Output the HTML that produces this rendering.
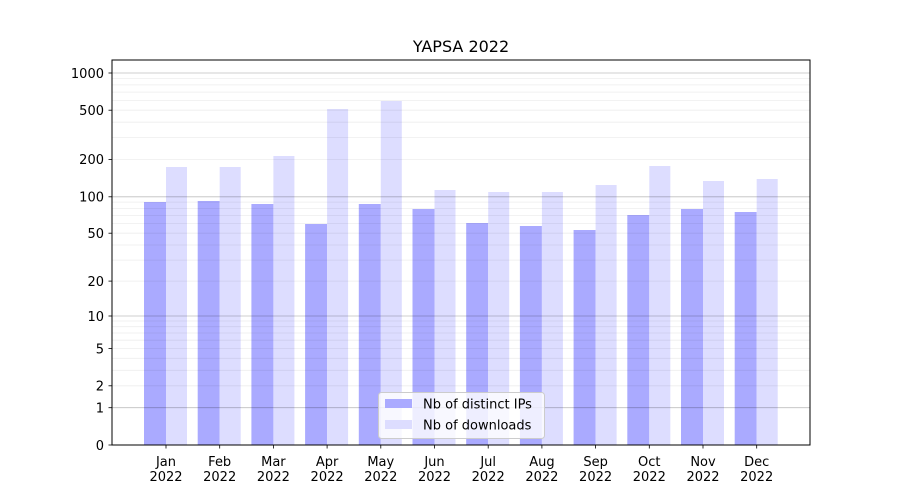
<!DOCTYPE html>
<html><head><meta charset="utf-8"><style>body{margin:0;background:#fff}svg{display:block}text{font-family:"DejaVu Sans","Liberation Sans",sans-serif;fill:#000}</style></head>
<body>
<svg width="900" height="500" viewBox="0 0 900 500" xmlns="http://www.w3.org/2000/svg">
<rect width="900" height="500" fill="#fff"/>
<g fill="#aaaaff">
<rect x="144" y="202" width="22" height="243"/>
<rect x="197.7" y="201" width="22" height="244"/>
<rect x="251.4" y="204" width="22" height="241"/>
<rect x="305.1" y="224" width="22" height="221"/>
<rect x="358.8" y="204" width="22" height="241"/>
<rect x="412.5" y="209" width="22" height="236"/>
<rect x="466.2" y="223" width="22" height="222"/>
<rect x="519.9" y="226" width="22" height="219"/>
<rect x="573.6" y="230" width="22" height="215"/>
<rect x="627.3" y="215" width="22" height="230"/>
<rect x="681" y="209" width="22" height="236"/>
<rect x="734.7" y="212" width="22" height="233"/>
</g>
<g fill="#ddddff">
<rect x="166" y="167" width="21" height="278"/>
<rect x="219.7" y="167" width="21" height="278"/>
<rect x="273.4" y="156" width="21" height="289"/>
<rect x="327.1" y="109" width="21" height="336"/>
<rect x="380.8" y="101" width="21" height="344"/>
<rect x="434.5" y="190" width="21" height="255"/>
<rect x="488.2" y="192" width="21" height="253"/>
<rect x="541.9" y="192" width="21" height="253"/>
<rect x="595.6" y="185" width="21" height="260"/>
<rect x="649.3" y="166" width="21" height="279"/>
<rect x="703" y="181" width="21" height="264"/>
<rect x="756.7" y="179" width="21" height="266"/>
</g>
<g stroke="#000" stroke-opacity="0.07" stroke-width="0.8">
<line x1="112" x2="810" y1="385.8" y2="385.8"/><line x1="112" x2="810" y1="370.3" y2="370.3"/><line x1="112" x2="810" y1="358.3" y2="358.3"/><line x1="112" x2="810" y1="348.5" y2="348.5"/><line x1="112" x2="810" y1="340.2" y2="340.2"/><line x1="112" x2="810" y1="333" y2="333"/><line x1="112" x2="810" y1="326.7" y2="326.7"/><line x1="112" x2="810" y1="321" y2="321"/>
<line x1="112" x2="810" y1="281.1" y2="281.1"/><line x1="112" x2="810" y1="260.1" y2="260.1"/><line x1="112" x2="810" y1="245" y2="245"/><line x1="112" x2="810" y1="233.2" y2="233.2"/><line x1="112" x2="810" y1="223.6" y2="223.6"/><line x1="112" x2="810" y1="215.5" y2="215.5"/><line x1="112" x2="810" y1="208.4" y2="208.4"/><line x1="112" x2="810" y1="202.1" y2="202.1"/>
<line x1="112" x2="810" y1="159.4" y2="159.4"/><line x1="112" x2="810" y1="137.6" y2="137.6"/><line x1="112" x2="810" y1="122.2" y2="122.2"/><line x1="112" x2="810" y1="110.2" y2="110.2"/><line x1="112" x2="810" y1="100.4" y2="100.4"/><line x1="112" x2="810" y1="92.1" y2="92.1"/><line x1="112" x2="810" y1="84.9" y2="84.9"/><line x1="112" x2="810" y1="78.6" y2="78.6"/>
</g>
<g stroke="#000" stroke-opacity="0.25" stroke-width="0.8">
<line x1="112" x2="810" y1="407.7" y2="407.7"/><line x1="112" x2="810" y1="316" y2="316"/><line x1="112" x2="810" y1="196.8" y2="196.8"/><line x1="112" x2="810" y1="73" y2="73"/>
</g>
<rect x="112" y="60" width="698" height="385" fill="none" stroke="#000" stroke-width="1"/>
<g stroke="#000" stroke-width="0.8">
<line x1="108.5" x2="112" y1="445" y2="445"/><line x1="108.5" x2="112" y1="407.7" y2="407.7"/><line x1="108.5" x2="112" y1="385.8" y2="385.8"/><line x1="108.5" x2="112" y1="348.5" y2="348.5"/><line x1="108.5" x2="112" y1="316" y2="316"/><line x1="108.5" x2="112" y1="281.1" y2="281.1"/><line x1="108.5" x2="112" y1="233.2" y2="233.2"/><line x1="108.5" x2="112" y1="196.8" y2="196.8"/><line x1="108.5" x2="112" y1="159.4" y2="159.4"/><line x1="108.5" x2="112" y1="110.2" y2="110.2"/><line x1="108.5" x2="112" y1="73" y2="73"/>
<line x1="166" x2="166" y1="445" y2="448.5"/><line x1="219.7" x2="219.7" y1="445" y2="448.5"/><line x1="273.4" x2="273.4" y1="445" y2="448.5"/><line x1="327.1" x2="327.1" y1="445" y2="448.5"/><line x1="380.8" x2="380.8" y1="445" y2="448.5"/><line x1="434.5" x2="434.5" y1="445" y2="448.5"/><line x1="488.2" x2="488.2" y1="445" y2="448.5"/><line x1="541.9" x2="541.9" y1="445" y2="448.5"/><line x1="595.6" x2="595.6" y1="445" y2="448.5"/><line x1="649.3" x2="649.3" y1="445" y2="448.5"/><line x1="703" x2="703" y1="445" y2="448.5"/><line x1="756.7" x2="756.7" y1="445" y2="448.5"/>
</g>
<g font-size="13" text-anchor="end">
<text x="104" y="450">0</text><text x="104" y="412.5">1</text><text x="104" y="390.5">2</text><text x="104" y="353.5">5</text><text x="104" y="321">10</text><text x="104" y="286">20</text><text x="104" y="238">50</text><text x="104" y="201.5">100</text><text x="104" y="164">200</text><text x="104" y="115">500</text><text x="104" y="78">1000</text>
</g>
<g font-size="13" text-anchor="middle">
<text x="166" y="466">Jan</text><text x="166" y="481">2022</text>
<text x="219.7" y="466">Feb</text><text x="219.7" y="481">2022</text>
<text x="273.4" y="466">Mar</text><text x="273.4" y="481">2022</text>
<text x="327.1" y="466">Apr</text><text x="327.1" y="481">2022</text>
<text x="380.8" y="466">May</text><text x="380.8" y="481">2022</text>
<text x="434.5" y="466">Jun</text><text x="434.5" y="481">2022</text>
<text x="488.2" y="466">Jul</text><text x="488.2" y="481">2022</text>
<text x="541.9" y="466">Aug</text><text x="541.9" y="481">2022</text>
<text x="595.6" y="466">Sep</text><text x="595.6" y="481">2022</text>
<text x="649.3" y="466">Oct</text><text x="649.3" y="481">2022</text>
<text x="703" y="466">Nov</text><text x="703" y="481">2022</text>
<text x="756.7" y="466">Dec</text><text x="756.7" y="481">2022</text>
</g>
<text x="461" y="52" font-size="16" text-anchor="middle">YAPSA 2022</text>
<rect x="378.5" y="392.5" width="166" height="46" rx="3" fill="#fff" fill-opacity="0.8" stroke="#ccc"/>
<rect x="385" y="399" width="27" height="9" fill="#aaaaff"/>
<rect x="385" y="420" width="27" height="9" fill="#ddddff"/>
<text x="423" y="408.5" font-size="13">Nb of distinct IPs</text>
<text x="423" y="429.5" font-size="13">Nb of downloads</text>
</svg>
</body></html>
